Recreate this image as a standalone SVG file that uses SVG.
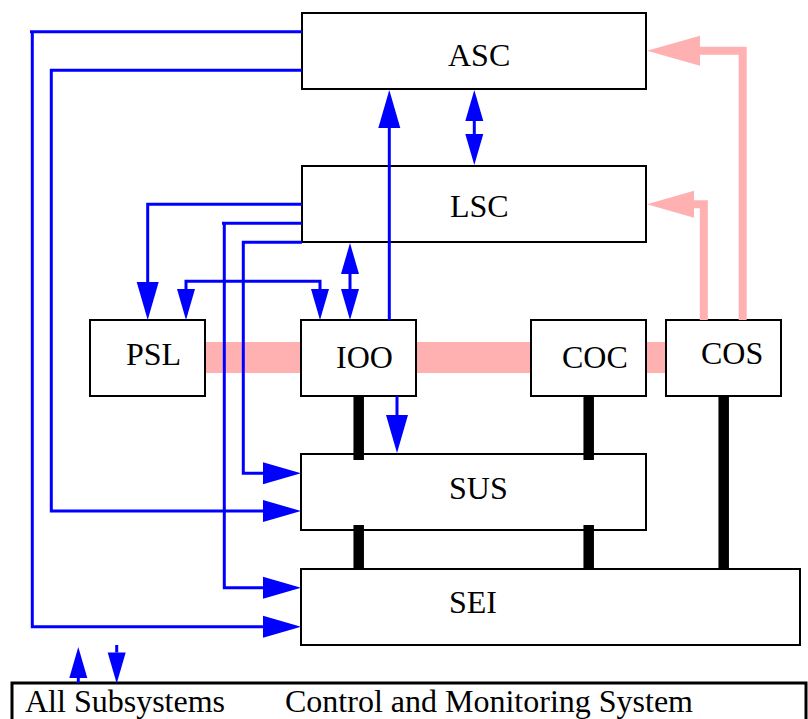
<svg xmlns="http://www.w3.org/2000/svg" width="808" height="719" viewBox="0 0 808 719">
<style>
.box{fill:#fff;stroke:#000;stroke-width:2}
text{font-family:"Liberation Serif","Tinos","Times New Roman",Times,"DejaVu Serif",serif;font-size:32px;fill:#000}
.blue{fill:none;stroke:#0000ff;stroke-width:3;stroke-linejoin:miter}
.big{marker-end:url(#aBig)}
.pink{fill:none;stroke:#ffb0b0;stroke-width:8;stroke-linejoin:miter}
.bus{stroke:#000;stroke-width:10.5}
</style>
<defs>
<marker id="aBig" markerUnits="userSpaceOnUse" markerWidth="38" markerHeight="22" refX="0" refY="11" orient="auto" overflow="visible"><path d="M0,0 L38,11 L0,22 z" fill="#0000ff"/></marker>
<marker id="aSmall" markerUnits="userSpaceOnUse" markerWidth="31" markerHeight="18" refX="0" refY="9" orient="auto-start-reverse" overflow="visible"><path d="M0,0 L31,9 L0,18 z" fill="#0000ff"/></marker>
<marker id="pA" markerUnits="userSpaceOnUse" markerWidth="53" markerHeight="30" refX="0" refY="15" orient="auto" overflow="visible"><path d="M0,0 L53,15 L0,30 z" fill="#ffb0b0"/></marker>
<marker id="pB" markerUnits="userSpaceOnUse" markerWidth="47" markerHeight="27" refX="0" refY="13.5" orient="auto" overflow="visible"><path d="M0,0 L47,13.5 L0,27 z" fill="#ffb0b0"/></marker>
</defs>

<g id="bus-band">
<rect x="205" y="342" width="461" height="31" fill="#ffb0b0"/>
</g>

<g id="ASC"><rect class="box" x="302" y="13" width="344" height="76"/><text x="448" y="66">ASC</text></g>
<g id="LSC"><rect class="box" x="302" y="166" width="344" height="76"/><text x="450" y="217">LSC</text></g>
<g id="PSL"><rect class="box" x="90" y="320" width="115" height="76"/><text x="126" y="365">PSL</text></g>
<g id="IOO"><rect class="box" x="301" y="320" width="115" height="76"/><text x="336" y="368">IOO</text></g>
<g id="COC"><rect class="box" x="531" y="320" width="115" height="76"/><text x="562" y="368">COC</text></g>
<g id="COS"><rect class="box" x="666" y="320" width="115" height="76"/><text x="701" y="364">COS</text></g>
<g id="SUS"><rect class="box" x="301" y="454" width="345" height="76"/><text x="449" y="499">SUS</text></g>
<g id="SEI"><rect class="box" x="301" y="569" width="499" height="76"/><text x="449" y="613">SEI</text></g>

<g id="frame">
<rect x="12" y="683" width="794" height="60" fill="none" stroke="#000" stroke-width="3"/>
<text x="25" y="712">All Subsystems</text>
<text x="285" y="712">Control and Monitoring System</text>
</g>

<g id="connectors">
<path class="pink" d="M742.7,320 V50.7 H700" marker-end="url(#pA)"/>
<path class="pink" d="M703.8,320 V204.3 H694" marker-end="url(#pB)"/>

<path class="blue big" d="M302,31.7 H30 M32.3,31.7 V626.7 H263"/>
<path class="blue big" d="M302,70.3 H51.3 V511 H263"/>
<path class="blue big" d="M302,204.3 H147.7 V282"/>
<path class="blue big" d="M302,223.3 H222 M224.3,223.3 V587.7 H263"/>
<path class="blue big" d="M302,242.3 H243.3 V473.3 H263"/>
<path class="blue" d="M186,289 V281.3 H320 V289" marker-start="url(#aSmall)" marker-end="url(#aSmall)"/>
<path class="blue" d="M350,274 V289" marker-start="url(#aSmall)" marker-end="url(#aSmall)"/>
<path class="blue big" d="M389.3,320 V128"/>
<path class="blue" d="M474.3,121 V134" marker-start="url(#aSmall)" marker-end="url(#aSmall)"/>
<path class="blue big" d="M397,396 V415"/>
<path class="blue" d="M78.3,683 V678" marker-end="url(#aSmall)"/>
<path class="blue" d="M116.7,645 V652.5" marker-end="url(#aSmall)"/>

<line class="bus" x1="358.7" y1="396" x2="358.7" y2="460"/>
<line class="bus" x1="588.7" y1="396" x2="588.7" y2="460"/>
<line class="bus" x1="358.7" y1="525" x2="358.7" y2="569"/>
<line class="bus" x1="588.7" y1="525" x2="588.7" y2="569"/>
<line class="bus" x1="723.7" y1="396" x2="723.7" y2="569"/>
</g>
</svg>
